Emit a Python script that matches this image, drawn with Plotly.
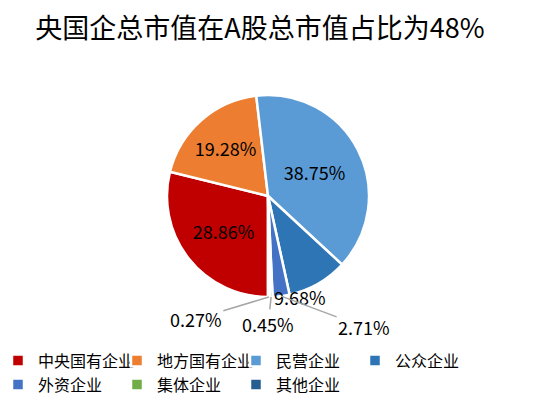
import math
import plotly.graph_objects as go

labels = ["中央国有企业", "地方国有企业", "民营企业", "公众企业", "外资企业", "集体企业", "其他企业"]
shares = [28.86, 19.28, 38.75, 9.68, 2.71, 0.45, 0.27]
colors = ["#C00000", "#ED7D31", "#5B9BD5", "#2E75B6", "#4472C4", "#70AD47", "#255E91"]
# big slices carry their label inside, the small ones get a callout below the pie
text_pos = ["inside", "inside", "inside", "none", "none", "none", "none"]
# callout offsets (px) from the slice's outer edge, and whether a leader line is drawn
callout_off = {3: (-18, 13, False), 4: (83, 31, True), 5: (-3, 27, True), 6: (-73, 22, True)}

FONT = "Noto Sans CJK SC, Microsoft YaHei, sans-serif"
# page body has an 8px margin, so the figure is sized to fit the window
W, H = 532, 403
ROT = 180
cx_px, cy_px, r_px = 260, 188, 101
dom_x = [(cx_px - r_px) / W, (cx_px + r_px) / W]
dom_y = [1 - (cy_px + r_px) / H, 1 - (cy_px - r_px) / H]

pie = go.Pie(
    labels=labels,
    values=shares,
    text=[f"{v:.2f}%" for v in shares],
    textinfo="text",
    textposition=text_pos,
    sort=False,
    direction="clockwise",
    rotation=ROT,
    marker=dict(colors=colors, line=dict(color="white", width=2.5)),
    textfont=dict(family=FONT, size=18, color="#000000"),
    insidetextorientation="horizontal",
    domain=dict(x=dom_x, y=dom_y),
    hovertemplate="%{label}: %{text}<extra></extra>",
)

fig = go.Figure(data=[pie])

# anchor the callouts on the slice edges
total = sum(shares)
start = ROT
for i, v in enumerate(shares):
    span = v / total * 360
    if i in callout_off:
        mid = math.radians(start + span / 2)
        px = cx_px + r_px * math.sin(mid)
        py = cy_px - r_px * math.cos(mid)
        dx, dy, line = callout_off[i]
        common = dict(
            text=f"{v:.2f}%",
            xref="paper",
            yref="paper",
            font=dict(family=FONT, size=18, color="#000000"),
        )
        if line:
            fig.add_annotation(
                x=px / W,
                y=1 - py / H,
                ax=dx,
                ay=dy,
                showarrow=True,
                arrowhead=0,
                arrowwidth=1.5,
                arrowcolor="#A6A6A6",
                standoff=0,
                **common,
            )
        else:
            fig.add_annotation(
                x=(px + dx) / W,
                y=1 - (py + dy) / H,
                xanchor="center",
                yanchor="middle",
                showarrow=False,
                **common,
            )
    start += span

fig.update_layout(
    width=W,
    height=H,
    margin=dict(l=0, r=0, t=0, b=0),
    paper_bgcolor="white",
    font=dict(family=FONT, color="#000000"),
    title=dict(
        text="央国企总市值在A股总市值占比为48%",
        x=252 / W,
        xanchor="center",
        y=1 - 21 / H,
        yanchor="middle",
        font=dict(family=FONT, size=27, color="#000000"),
    ),
    legend=dict(
        orientation="h",
        x=0,
        xanchor="left",
        y=0.167,
        yanchor="top",
        indentation=-10,
        entrywidth=84,
        entrywidthmode="pixels",
        traceorder="normal",
        font=dict(family=FONT, size=16, color="#000000"),
    ),
)

fig.write_html("out.html")
